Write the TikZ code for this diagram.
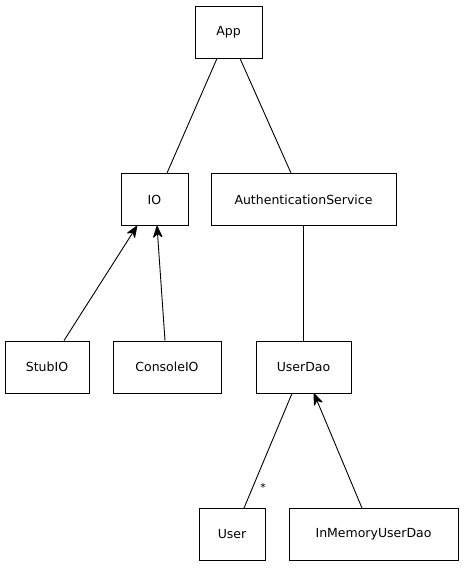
\documentclass[tikz,border=0pt]{standalone}
\usepackage{fontspec}
\setmainfont{DejaVu Sans}
\usepackage{tikz}
\usetikzlibrary{arrows.meta}

\begin{document}
\begin{tikzpicture}[x=1pt, y=-1pt, line width=0.9pt,
  classe/.style={draw, inner sep=0pt, minimum height=52pt, font=\fontsize{12.5}{14}\selectfont},
  herite/.style={-{Stealth[length=14pt,width=11pt,inset=5pt,line width=1.2pt,round]}}]
\useasboundingbox (0,0) rectangle (464,568);
% Classes
\node[classe, minimum width=67pt] (app) at (228.5,32) {App};
\node[classe, minimum width=67pt] (io) at (154.5,199.5) {IO};
\node[classe, minimum width=185pt] (auth) at (303.5,199.5) {AuthenticationService};
\node[classe, minimum width=84pt] (stubio) at (47,367) {StubIO};
\node[classe, minimum width=108pt] (consoleio) at (167,367) {ConsoleIO};
\node[classe, minimum width=95pt] (userdao) at (303.5,367) {UserDao};
\node[classe, minimum width=66pt] (user) at (232,534.5) {User};
\node[classe, minimum width=169pt] (inmem) at (373.5,534.5) {InMemoryUserDao};
% Liens
\draw ([xshift=-11.5pt]app.south) -- ([xshift=12.5pt]io.north);
\draw ([xshift=11.5pt]app.south) -- ([xshift=-12.5pt]auth.north);
\draw (auth.south) -- (userdao.north);
\draw ([xshift=-11.5pt]userdao.south) -- node[pos=0.82, right=4pt, font=\fontsize{11}{12}\selectfont] {*} ([xshift=12pt]user.north);
% Flèches
\draw[herite] ([xshift=17pt]stubio.north) -- ([xshift=-17.5pt]io.south);
\draw[herite] ([xshift=-2pt]consoleio.north) -- ([xshift=2.5pt]io.south);
\draw[herite] ([xshift=-11.5pt]inmem.north) -- ([xshift=10.5pt]userdao.south);
\end{tikzpicture}
\end{document}
